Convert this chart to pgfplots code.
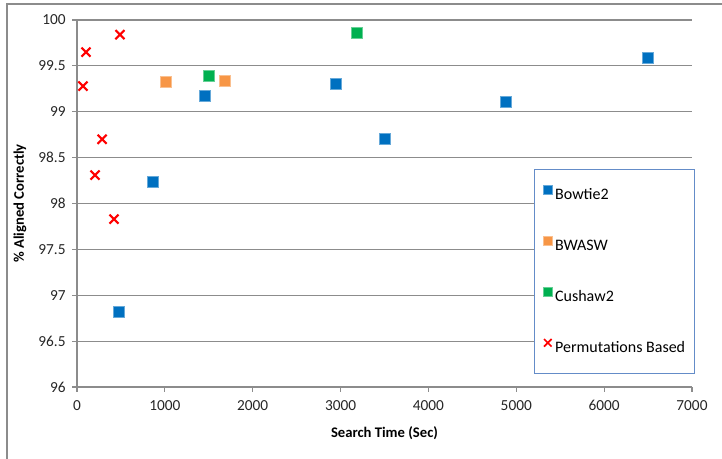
\documentclass[border=0pt]{standalone}
\usepackage{pgfplots}
\pgfplotsset{compat=1.18}
\usepackage{fontspec}
\setmainfont{Carlito}
\definecolor{cblue}{RGB}{0,112,192}
\definecolor{corange}{RGB}{247,150,70}
\definecolor{cgreen}{RGB}{0,176,80}
\definecolor{cred}{RGB}{255,0,0}
\definecolor{cgrid}{RGB}{140,140,140}
\definecolor{clegend}{RGB}{100,140,200}
\begin{document}
\begin{tikzpicture}
\useasboundingbox (-57.75pt,-54pt) rectangle (483.75pt,290.25pt);
\draw[cgrid, line width=0.9pt] (-52.5pt,-60pt) -- (-52.5pt,287.25pt) -- (490pt,287.25pt);
\begin{axis}[
  scale only axis,
  width=461.25pt, height=275.25pt,
  xmin=0, xmax=7000, ymin=96, ymax=100,
  xtick={0,1000,...,7000},
  ytick={96,96.5,97,97.5,98,98.5,99,99.5,100},
  axis x line*=bottom, axis y line*=left,
  axis line style={cgrid, line width=0.8pt},
  tick style={cgrid, line width=0.8pt},
  tick align=outside,
  major tick length=3.5pt,
  ymajorgrids,
  grid style={cgrid, line width=0.8pt},
  /pgf/number format/assume math mode=true,
  /pgf/number format/1000 sep={},
  ticklabel style={font=\fontsize{11.5}{13}\selectfont, text=black!85},
  xticklabel style={yshift=-3pt},
  yticklabel style={xshift=-1.5pt},
  xlabel={\textbf{Search Time (Sec)}},
  ylabel={\textbf{\% Aligned Correctly}},
  xlabel style={font=\fontsize{11}{13}\selectfont, at={(axis description cs:0.5,-0.1253)}, anchor=center},
  ylabel style={font=\fontsize{11}{13}\selectfont, at={(axis description cs:-0.0927,0.5)}, anchor=center},
  legend style={at={(axis description cs:0.743,0.594)}, anchor=north west,
    draw=clegend, line width=0.8pt, fill=white, inner xsep=5.74pt, inner ysep=0pt,
    font=\fontsize{12}{14}\selectfont,
    nodes={inner xsep=1.24pt, inner ysep=0pt, text height=22.5pt, text depth=15.75pt}},
  legend cell align=left,
  legend image code/.code={\path[draw=none,fill=none] (0pt,0pt) rectangle (8.54pt,7.8pt); \draw[#1] plot coordinates {(4.27pt,3.9pt)};},
]
\addplot[only marks, mark=square*, mark size=4.1pt, color=cblue, mark options={fill=cblue, draw=cblue!60!white, line width=0.4pt}, legend image post style={mark size=3.2pt}]
 coordinates {(865,98.24) (1457,99.17) (478,96.82) (2948,99.31) (3505,98.71) (4883,99.11) (6499,99.59)};
\addlegendentry{Bowtie2}
\addplot[only marks, mark=square*, mark size=4.1pt, color=corange, mark options={fill=corange, draw=corange!60!white, line width=0.4pt}, legend image post style={mark size=3.2pt}]
 coordinates {(1013,99.33) (1684,99.34)};
\addlegendentry{BWASW}
\addplot[only marks, mark=square*, mark size=4.1pt, color=cgreen, mark options={fill=cgreen, draw=cgreen!60!white, line width=0.4pt}, legend image post style={mark size=3.2pt}]
 coordinates {(1502,99.39) (3187,99.86)};
\addlegendentry{Cushaw2}
\addplot[only marks, mark=x, mark size=4.8pt, color=cred, mark options={line width=1.6pt}, legend image post style={mark size=4pt, mark options={line width=1.3pt}}]
 coordinates {(68,99.28) (102,99.65) (489,99.84) (285,98.70) (205,98.31) (421,97.83)};
\addlegendentry{Permutations Based}
\end{axis}
\end{tikzpicture}
\end{document}
